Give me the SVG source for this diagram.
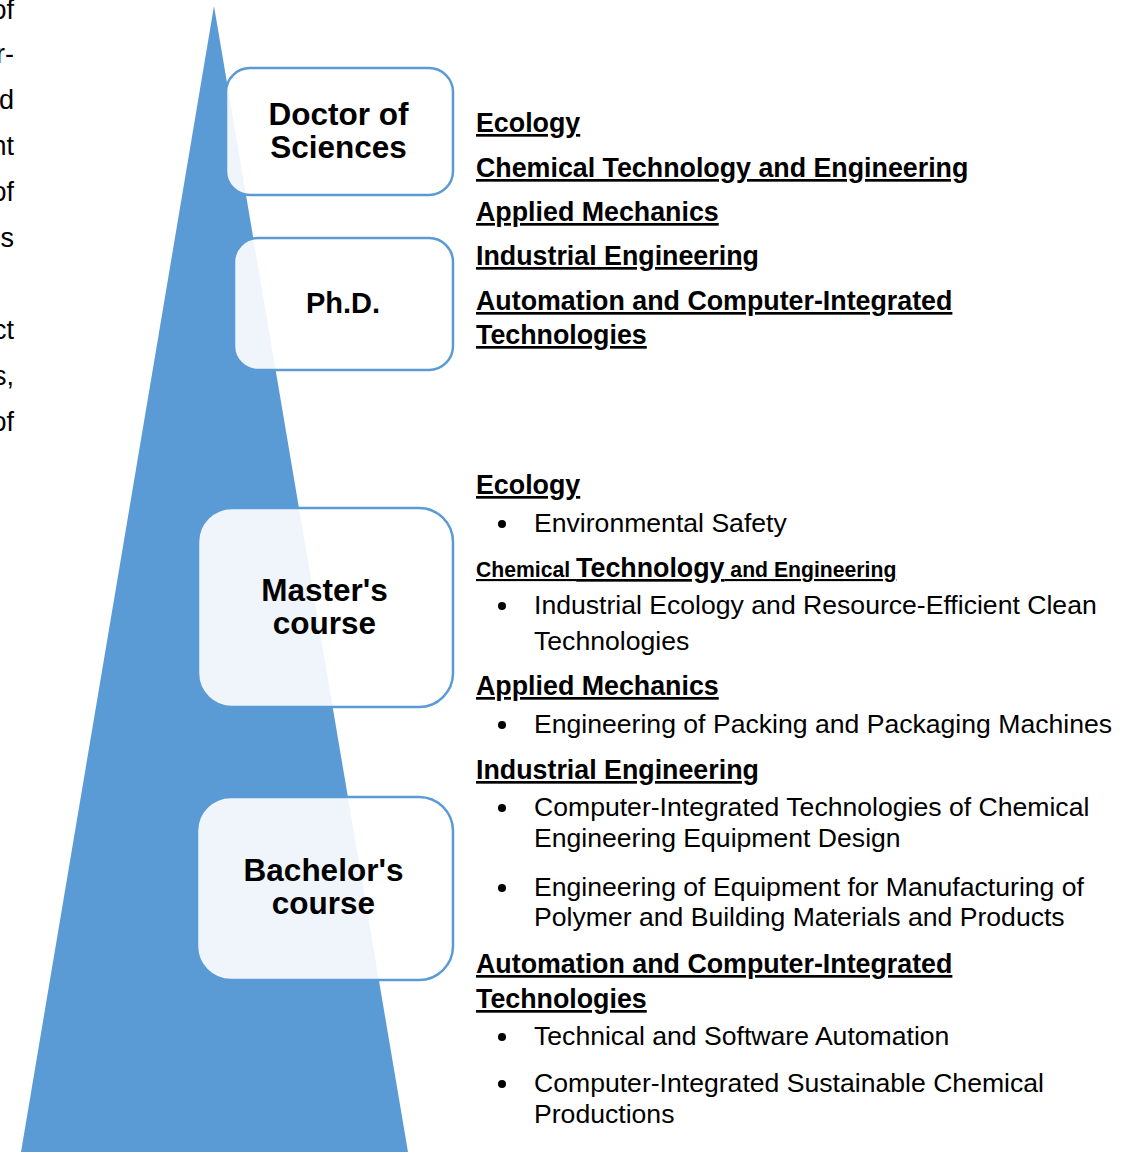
<svg xmlns="http://www.w3.org/2000/svg" width="1126" height="1152" viewBox="0 0 1126 1152">
<style>
text{font-family:"Liberation Sans",Arial,sans-serif;fill:#000}
.frag{font-size:27px;text-anchor:end}
.box{fill:#fff;fill-opacity:0.9;stroke:#5B9BD5;stroke-width:2.5}
.lbl{font-size:31.5px;font-weight:bold;text-anchor:middle}
.h{font-size:26.8px;font-weight:bold;text-decoration:underline}
.hs{font-size:21.2px}
.it{font-size:26.6px}
.bul{fill:#000}
</style>
<rect x="0" y="0" width="1126" height="1152" fill="#fff"/>
<g id="left-fragments">
<text class="frag" x="14" y="19">of</text>
<text class="frag" x="14" y="63">r-</text>
<text class="frag" x="14" y="109">d</text>
<text class="frag" x="14" y="155">nt</text>
<text class="frag" x="14" y="201">of</text>
<text class="frag" x="14" y="247">s</text>
<text class="frag" x="14" y="339">ct</text>
<text class="frag" x="14" y="385">s,</text>
<text class="frag" x="14" y="431">of</text>
</g>
<g id="pyramid">
<polygon points="214,6 21,1152 408,1152" fill="#5B9BD5"/>
</g>
<g id="node-doctor">
<rect class="box" x="226" y="68" width="227" height="127" rx="24"/>
<text class="lbl" x="338.5" y="125">Doctor of</text>
<text class="lbl" x="338.5" y="158">Sciences</text>
</g>
<g id="node-phd">
<rect class="box" x="234" y="238" width="219" height="132" rx="24"/>
<text class="lbl" x="343" y="313" style="font-size:29px">Ph.D.</text>
</g>
<g id="node-master">
<rect class="box" x="198" y="508" width="255" height="199" rx="34"/>
<text class="lbl" x="324.5" y="601">Master's</text>
<text class="lbl" x="324.5" y="634">course</text>
</g>
<g id="node-bachelor">
<rect class="box" x="197" y="797" width="256" height="183" rx="34"/>
<text class="lbl" x="323.5" y="881">Bachelor's</text>
<text class="lbl" x="323.5" y="914">course</text>
</g>
<g id="doctoral-list">
<text class="h" x="476" y="132">Ecology</text>
<text class="h" x="476" y="177">Chemical Technology and Engineering</text>
<text class="h" x="476" y="221">Applied Mechanics</text>
<text class="h" x="476" y="265">Industrial Engineering</text>
<text class="h" x="476" y="310">Automation and Computer-Integrated</text>
<text class="h" x="476" y="344">Technologies</text>
</g>
<g id="master-bachelor-list">
<text class="h" x="476" y="494">Ecology</text>
<circle class="bul" cx="502" cy="524" r="4"/>
<text class="it" x="534" y="532">Environmental Safety</text>
<text class="h" x="476" y="577"><tspan class="hs">Chemical </tspan>Technology<tspan class="hs"> and Engineering</tspan></text>
<circle class="bul" cx="502" cy="606" r="4"/>
<text class="it" x="534" y="614">Industrial Ecology and Resource-Efficient Clean</text>
<text class="it" x="534" y="650">Technologies</text>
<text class="h" x="476" y="695">Applied Mechanics</text>
<circle class="bul" cx="502" cy="725" r="4"/>
<text class="it" x="534" y="733">Engineering of Packing and Packaging Machines</text>
<text class="h" x="476" y="779">Industrial Engineering</text>
<circle class="bul" cx="502" cy="808" r="4"/>
<text class="it" x="534" y="816">Computer-Integrated Technologies of Chemical</text>
<text class="it" x="534" y="847">Engineering Equipment Design</text>
<circle class="bul" cx="502" cy="888" r="4"/>
<text class="it" x="534" y="896">Engineering of Equipment for Manufacturing of</text>
<text class="it" x="534" y="926">Polymer and Building Materials and Products</text>
<text class="h" x="476" y="973">Automation and Computer-Integrated</text>
<text class="h" x="476" y="1008">Technologies</text>
<circle class="bul" cx="502" cy="1037" r="4"/>
<text class="it" x="534" y="1045">Technical and Software Automation</text>
<circle class="bul" cx="502" cy="1084" r="4"/>
<text class="it" x="534" y="1092">Computer-Integrated Sustainable Chemical</text>
<text class="it" x="534" y="1123">Productions</text>
</g>
<g id="connectors"></g>
</svg>
